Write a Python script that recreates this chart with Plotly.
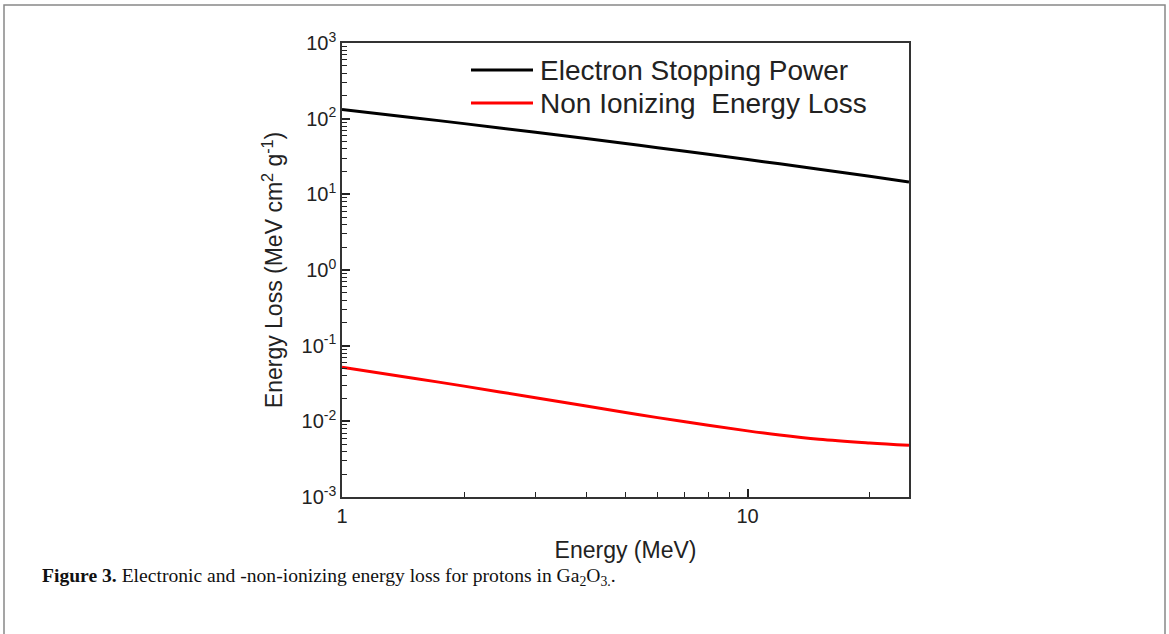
import plotly.graph_objects as go

# Data
energy_mev = [1, 1.5, 2, 3, 4, 5, 6, 8, 10, 12, 15, 20, 25]
electron_stopping = [132, 103, 86, 66, 54.6, 46.9, 41.4, 33.8, 28.8, 25.3, 21.4, 17.3, 14.6]
niel = [0.052, 0.0372, 0.0292, 0.0205, 0.0159, 0.01306, 0.0112, 0.0089, 0.00748,
        0.00659, 0.0058, 0.00518, 0.00482]

series_names = ["Electron Stopping Power", "Non Ionizing\u00a0 Energy Loss"]
series_colors = ["#000000", "#ff0000"]

y_tick_exps = [-3, -2, -1, 0, 1, 2, 3]
x_tick_vals = [1, 10]

# plot area in pixels
W, H = 1169, 634
L, R, T, B = 342, 909, 43, 497

def px_x(px):
    return (px - L) / (R - L)

def px_y(py):
    return (B - py) / (B - T)

fig = go.Figure()
for name, vals, col in zip(series_names, [electron_stopping, niel], series_colors):
    fig.add_trace(go.Scatter(x=energy_mev, y=vals, mode="lines", name=name,
                             line=dict(color=col, width=3, shape="spline"),
                             showlegend=False))

y_minor = [m * 10 ** e for e in y_tick_exps[:-1] for m in range(2, 10)]
x_minor = [m for m in range(2, 10)] + [20]

SANS = "Liberation Sans, Arial, sans-serif"
axis_font = dict(family=SANS, size=20, color="#222")

fig.update_xaxes(type="log", range=[0, 1.398], tickvals=x_tick_vals,
                 ticktext=[str(v) for v in x_tick_vals],
                 ticks="inside", ticklen=8, tickwidth=1.5, tickcolor="#222",
                 minor=dict(ticks="inside", ticklen=5, tickwidth=1.2, tickcolor="#222",
                            tickvals=x_minor, showgrid=False),
                 showline=True, linecolor="#333", linewidth=1.5, mirror=True,
                 showgrid=False, zeroline=False, tickfont=axis_font,
                 title=dict(text="Energy (MeV)", font=dict(family=SANS, size=23, color="#222"),
                            standoff=16))
fig.update_yaxes(type="log", range=[-3, 3],
                 tickvals=[10 ** e for e in y_tick_exps],
                 ticktext=["10<sup>%d</sup>" % e for e in y_tick_exps],
                 ticks="inside", ticklen=8, tickwidth=1.5, tickcolor="#222",
                 minor=dict(ticks="inside", ticklen=5, tickwidth=1.2, tickcolor="#222",
                            tickvals=y_minor, showgrid=False),
                 showline=True, linecolor="#333", linewidth=1.5, mirror=True,
                 showgrid=False, zeroline=False, tickfont=axis_font,
                 title=dict(text="Energy Loss (MeV cm<sup>2</sup> g<sup>-1</sup>)",
                            font=dict(family=SANS, size=23, color="#222"),
                            standoff=12))

shapes = []
annotations = []
# manual legend
for i, (name, col) in enumerate(zip(series_names, series_colors)):
    yy = px_y(70 + 33 * i)
    shapes.append(dict(type="line", xref="paper", yref="paper",
                       x0=px_x(471), x1=px_x(533), y0=yy, y1=yy,
                       line=dict(color=col, width=3)))
    annotations.append(dict(xref="paper", yref="paper", x=px_x(538), y=yy,
                            xanchor="left", yanchor="middle", showarrow=False,
                            text=name, font=dict(family=SANS, size=28, color="#222")))

# outer frame
shapes.append(dict(type="rect", xref="paper", yref="paper",
                   x0=px_x(4), x1=px_x(1165), y0=px_y(5), y1=px_y(640),
                   line=dict(color="#888", width=1.5), fillcolor="rgba(0,0,0,0)"))

annotations.append(dict(xref="paper", yref="paper", x=px_x(40), y=px_y(577),
                        xanchor="left", yanchor="middle", showarrow=False,
                        text="<b>Figure 3.</b> Electronic and -non-ionizing energy loss for protons in Ga<sub>2</sub>O<sub>3.</sub>.",
                        font=dict(family="Liberation Serif, Times New Roman, serif", size=19.6, color="#111")))

fig.update_layout(width=W, height=H, margin=dict(l=L, r=W - R, t=T, b=H - B),
                  paper_bgcolor="white", plot_bgcolor="white",
                  shapes=shapes, annotations=annotations)

fig.write_html("out.html")
